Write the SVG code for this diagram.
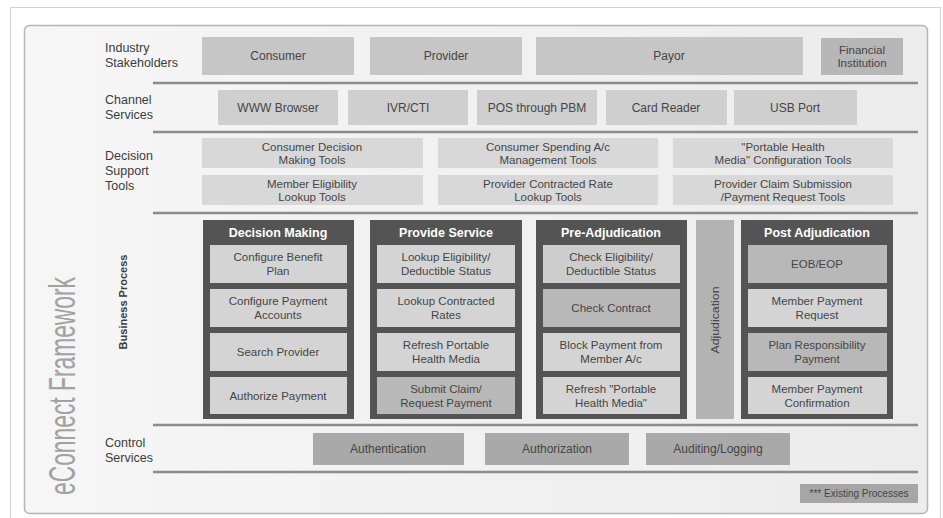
<svg xmlns="http://www.w3.org/2000/svg" width="943" height="518" viewBox="0 0 943 518">
<style>
text{font-family:"Liberation Sans",Arial,sans-serif;fill:#454545;font-size:12px;text-anchor:middle}
.lbl{text-anchor:start;font-size:12.5px;fill:#3c3c3c}
.t2{font-size:11.5px}
.sep{stroke:#8c8c8c;stroke-width:2.5}
.s1{fill:#c6c6c6}
.s1d{fill:#b7b7b7}
.ch{fill:#cfcfcf}
.dt{fill:#d8d8d8}
.frame{fill:#545454}
.pl{fill:#d4d4d4}
.pd{fill:#b8b8b8}
.hd{fill:#ffffff;font-weight:bold;font-size:12.5px}
.cs{fill:#a9a9a9}
</style>
<defs>
<linearGradient id="bg" x1="0" y1="0" x2="1" y2="0">
<stop offset="0" stop-color="#f6f6f6"/>
<stop offset="1" stop-color="#ececec"/>
</linearGradient>
</defs>
<rect x="10.5" y="7.5" width="930" height="520" fill="#ffffff" stroke="#d2d2d2"/>
<rect x="24.5" y="25.5" width="903" height="488" rx="5" fill="url(#bg)" stroke="#b5b5b5" stroke-width="1.5"/>
<text transform="translate(75,386) rotate(-90)" style="font-size:36px;fill:#a2a2a2" textLength="218" lengthAdjust="spacingAndGlyphs">eConnect Framework</text>

<g id="labels">
<text class="lbl" x="105" y="52">Industry</text>
<text class="lbl" x="105" y="67">Stakeholders</text>
<text class="lbl" x="105" y="104">Channel</text>
<text class="lbl" x="105" y="119">Services</text>
<text class="lbl" x="105" y="160">Decision</text>
<text class="lbl" x="105" y="175">Support</text>
<text class="lbl" x="105" y="190">Tools</text>
<text transform="translate(127,302) rotate(-90)" style="font-size:11px;font-weight:bold;fill:#3c3c3c">Business Process</text>
<text class="lbl" x="105" y="447">Control</text>
<text class="lbl" x="105" y="462">Services</text>
</g>

<g id="separators">
<line class="sep" x1="153" y1="83" x2="918" y2="83"/>
<line class="sep" x1="153" y1="132" x2="918" y2="132"/>
<line class="sep" x1="153" y1="213" x2="918" y2="213"/>
<line class="sep" x1="153" y1="425" x2="918" y2="425"/>
<line class="sep" x1="153" y1="472" x2="918" y2="472"/>
</g>

<g id="consumer"><rect class="s1" x="202" y="37" width="152" height="38"/><text x="278" y="60">Consumer</text></g>
<g id="provider"><rect class="s1" x="370" y="37" width="152" height="38"/><text x="446" y="60">Provider</text></g>
<g id="payor"><rect class="s1" x="536" y="37" width="267" height="38"/><text x="669" y="60">Payor</text></g>
<g id="financial"><rect class="s1d" x="821" y="38" width="82" height="37"/><text class="t2" x="862" y="54">Financial</text><text class="t2" x="862" y="67">Institution</text></g>

<g id="www"><rect class="ch" x="218" y="90" width="120" height="35"/><text x="278" y="112">WWW Browser</text></g>
<g id="ivr"><rect class="ch" x="348" y="90" width="120" height="35"/><text x="408" y="112">IVR/CTI</text></g>
<g id="pos"><rect class="ch" x="477" y="90" width="120" height="35"/><text x="537" y="112">POS through PBM</text></g>
<g id="card"><rect class="ch" x="606" y="90" width="121" height="35"/><text x="666" y="112">Card Reader</text></g>
<g id="usb"><rect class="ch" x="734" y="90" width="123" height="35"/><text x="795" y="112">USB Port</text></g>

<g id="dst1"><rect class="dt" x="202" y="138" width="221" height="30"/><text class="t2" x="312" y="151">Consumer Decision</text><text class="t2" x="312" y="164">Making Tools</text></g>
<g id="dst2"><rect class="dt" x="438" y="138" width="220" height="30"/><text class="t2" x="548" y="151">Consumer Spending A/c</text><text class="t2" x="548" y="164">Management Tools</text></g>
<g id="dst3"><rect class="dt" x="673" y="138" width="220" height="30"/><text class="t2" x="783" y="151">"Portable Health</text><text class="t2" x="783" y="164">Media" Configuration Tools</text></g>
<g id="dst4"><rect class="dt" x="202" y="175" width="221" height="30"/><text class="t2" x="312" y="188">Member Eligibility</text><text class="t2" x="312" y="201">Lookup Tools</text></g>
<g id="dst5"><rect class="dt" x="438" y="175" width="220" height="30"/><text class="t2" x="548" y="188">Provider Contracted Rate</text><text class="t2" x="548" y="201">Lookup Tools</text></g>
<g id="dst6"><rect class="dt" x="673" y="175" width="220" height="30"/><text class="t2" x="783" y="188">Provider Claim Submission</text><text class="t2" x="783" y="201">/Payment Request Tools</text></g>

<g id="decision-making">
<rect class="frame" x="203" y="220" width="151" height="199"/>
<text class="hd" x="278" y="237">Decision Making</text>
<rect class="pl" x="210" y="245" width="137" height="38"/><text class="t2" x="278" y="261">Configure Benefit</text><text class="t2" x="278" y="275">Plan</text>
<rect class="pl" x="210" y="289" width="137" height="38"/><text class="t2" x="278" y="305">Configure Payment</text><text class="t2" x="278" y="319">Accounts</text>
<rect class="pl" x="210" y="333" width="137" height="38"/><text class="t2" x="278" y="356">Search Provider</text>
<rect class="pl" x="210" y="377" width="137" height="37"/><text class="t2" x="278" y="400">Authorize Payment</text>
</g>

<g id="provide-service">
<rect class="frame" x="370" y="220" width="152" height="199"/>
<text class="hd" x="446" y="237">Provide Service</text>
<rect class="pl" x="377" y="245" width="138" height="38"/><text class="t2" x="446" y="261">Lookup Eligibility/</text><text class="t2" x="446" y="275">Deductible Status</text>
<rect class="pl" x="377" y="289" width="138" height="38"/><text class="t2" x="446" y="305">Lookup Contracted</text><text class="t2" x="446" y="319">Rates</text>
<rect class="pl" x="377" y="333" width="138" height="38"/><text class="t2" x="446" y="349">Refresh Portable</text><text class="t2" x="446" y="363">Health Media</text>
<rect class="pd" x="377" y="377" width="138" height="37"/><text class="t2" x="446" y="393">Submit Claim/</text><text class="t2" x="446" y="407">Request Payment</text>
</g>

<g id="pre-adjudication">
<rect class="frame" x="536" y="220" width="151" height="199"/>
<text class="hd" x="611" y="237">Pre-Adjudication</text>
<rect class="pl" x="543" y="245" width="137" height="38" style="fill:#cdcdcd"/><text class="t2" x="611" y="261">Check Eligibility/</text><text class="t2" x="611" y="275">Deductible Status</text>
<rect class="pd" x="543" y="289" width="137" height="38"/><text class="t2" x="611" y="312">Check Contract</text>
<rect class="pl" x="543" y="333" width="137" height="38"/><text class="t2" x="611" y="349">Block Payment from</text><text class="t2" x="611" y="363">Member A/c</text>
<rect class="pl" x="543" y="377" width="137" height="37"/><text class="t2" x="611" y="393">Refresh "Portable</text><text class="t2" x="611" y="407">Health Media"</text>
</g>

<g id="adjudication">
<rect x="696" y="220" width="38" height="199" fill="#b3b3b3"/>
<text transform="translate(719,320) rotate(-90)" style="font-size:11.5px" textLength="67" lengthAdjust="spacingAndGlyphs">Adjudication</text>
</g>

<g id="post-adjudication">
<rect class="frame" x="741" y="220" width="152" height="199"/>
<text class="hd" x="817" y="237">Post Adjudication</text>
<rect class="pd" x="748" y="245" width="139" height="38"/><text class="t2" x="817" y="268">EOB/EOP</text>
<rect class="pl" x="748" y="289" width="139" height="38"/><text class="t2" x="817" y="305">Member Payment</text><text class="t2" x="817" y="319">Request</text>
<rect class="pd" x="748" y="333" width="139" height="38"/><text class="t2" x="817" y="349">Plan Responsibility</text><text class="t2" x="817" y="363">Payment</text>
<rect class="pl" x="748" y="377" width="139" height="37"/><text class="t2" x="817" y="393">Member Payment</text><text class="t2" x="817" y="407">Confirmation</text>
</g>

<g id="authentication"><rect class="cs" x="313" y="433" width="151" height="32"/><text x="388" y="453">Authentication</text></g>
<g id="authorization"><rect class="cs" x="485" y="433" width="144" height="32"/><text x="557" y="453">Authorization</text></g>
<g id="auditing"><rect class="cs" x="646" y="433" width="144" height="32"/><text x="718" y="453">Auditing/Logging</text></g>

<g id="legend"><rect x="800" y="484" width="118" height="19" fill="#a6a6a6"/><text x="859" y="497" style="font-size:10px">*** Existing Processes</text></g>
</svg>
